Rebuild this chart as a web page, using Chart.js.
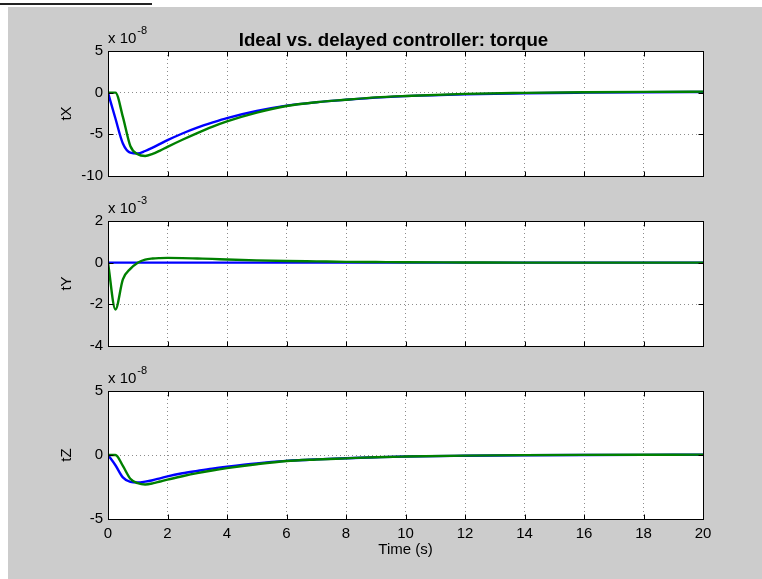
<!DOCTYPE html>
<html>
<head>
<meta charset="utf-8">
<script src="https://cdn.jsdelivr.net/npm/chart.js@4.4.1/dist/chart.umd.min.js"></script>
<style>
body { margin: 0; background: #fff; width: 762px; height: 579px; overflow: hidden; position: relative; }
#topline { position: absolute; left: 0; top: 3px; width: 152px; height: 2px; background: #222; }
#fig { position: absolute; left: 8px; top: 7px; right: 0; bottom: 0; background: #ccc; }
canvas { position: absolute; left: 0; }
</style>
</head>
<body>
<div id="topline"></div>
<div id="fig"></div>
<canvas id="cX" width="762" height="190" style="top:0"></canvas>
<canvas id="cY" width="762" height="170" style="top:190px"></canvas>
<canvas id="cZ" width="762" height="219" style="top:360px"></canvas>
<script>
// time samples (s)
var time = [0, 0.25, 0.5, 0.75, 1, 1.25, 1.5, 1.75, 2, 2.5, 3, 3.5, 4, 5, 6, 7, 8, 9, 10, 12, 14, 16, 18, 20];

// tX, units of 1e-8
var tXIdeal   = [0, -3.1, -6.1, -7.2, -7.3, -7.0, -6.6, -6.15, -5.7, -4.9, -4.2, -3.6, -3.05, -2.2, -1.56, -1.15, -0.85, -0.6, -0.42, -0.2, -0.07, 0, 0.05, 0.08];
var tXDelayed = [0, 0, -2.9, -6.4, -7.4, -7.6, -7.35, -6.95, -6.5, -5.65, -4.85, -4.1, -3.45, -2.4, -1.6, -1.15, -0.85, -0.57, -0.4, -0.15, -0.03, 0.05, 0.1, 0.12];

// tY, units of 1e-3
var tYIdeal   = [0, 0, 0, 0, 0, 0, 0, 0, 0, 0, 0, 0, 0, 0, 0, 0, 0, 0, 0, 0, 0, 0, 0, 0];
var tYDelayed = [0, -2.25, -0.8, -0.3, 0, 0.15, 0.2, 0.22, 0.23, 0.22, 0.2, 0.18, 0.15, 0.11, 0.08, 0.06, 0.04, 0.03, 0.02, 0.01, 0, 0, 0, 0];

// tZ, units of 1e-8
var tZIdeal   = [0, -0.8, -1.75, -2.1, -2.15, -2.08, -1.97, -1.82, -1.67, -1.43, -1.24, -1.06, -0.91, -0.65, -0.46, -0.34, -0.25, -0.18, -0.12, -0.06, -0.02, 0, 0.01, 0.02];
var tZDelayed = [0, 0, -0.85, -1.85, -2.2, -2.3, -2.22, -2.07, -1.92, -1.66, -1.42, -1.21, -1.03, -0.72, -0.47, -0.35, -0.26, -0.17, -0.12, -0.05, -0.01, 0.01, 0.02, 0.03];

var xTicks = [0, 2, 4, 6, 8, 10, 12, 14, 16, 18, 20];
var yTicksX = [-10, -5, 0, 5];
var yTicksY = [-4, -2, 0, 2];
var yTicksZ = [-5, 0, 5];

var FONT = '"Liberation Sans", Arial, sans-serif';
Chart.defaults.font.family = FONT;
Chart.defaults.font.size = 15;
Chart.defaults.color = '#000';

// white plot box, black frame, inward ticks, exponent and title text
var frame = {
  id: 'frame',
  beforeDraw: function (chart) {
    var a = chart.chartArea, ctx = chart.ctx;
    ctx.save();
    ctx.fillStyle = '#fff';
    ctx.fillRect(a.left, a.top, a.right - a.left, a.bottom - a.top);
    ctx.restore();
  },
  afterDraw: function (chart, args, opts) {
    var a = chart.chartArea, ctx = chart.ctx;
    var sx = chart.scales.x, sy = chart.scales.y;
    var L = Math.round(a.left) + 0.5, R = Math.round(a.right) + 0.5;
    var T = Math.round(a.top) + 0.5, B = Math.round(a.bottom) + 0.5;
    ctx.save();
    ctx.strokeStyle = '#000';
    ctx.lineWidth = 1;
    ctx.beginPath();
    sx.ticks.forEach(function (t) {
      var p = Math.round(sx.getPixelForValue(t.value)) + 0.5;
      ctx.moveTo(p, B); ctx.lineTo(p, B - 5);
      ctx.moveTo(p, T); ctx.lineTo(p, T + 5);
    });
    sy.ticks.forEach(function (t) {
      var p = Math.round(sy.getPixelForValue(t.value)) + 0.5;
      ctx.moveTo(L, p); ctx.lineTo(L + 5, p);
      ctx.moveTo(R, p); ctx.lineTo(R - 5, p);
    });
    ctx.stroke();
    ctx.strokeRect(L, T, R - L, B - T);

    ctx.fillStyle = '#000';
    ctx.textBaseline = 'alphabetic';
    ctx.textAlign = 'left';
    ctx.font = '15px ' + FONT;
    ctx.fillText('x 10', a.left, a.top - 8);
    var w = ctx.measureText('x 10').width;
    ctx.font = '11px ' + FONT;
    ctx.fillText(opts.exp, a.left + w + 1, a.top - 17);
    if (opts.title) {
      ctx.font = 'bold 18.7px ' + FONT;
      ctx.textAlign = 'center';
      ctx.fillText(opts.title, (a.left + a.right) / 2 - 12, a.top - 5);
    }
    ctx.restore();
  }
};

function pts(ys) {
  return time.map(function (t, i) { return { x: t, y: ys[i] }; });
}

function panel(id, padTop, xHeight, ideal, delayed, yTicks, label, exp, showX, title) {
  return new Chart(document.getElementById(id), {
    type: 'line',
    data: {
      datasets: [
        { data: pts(delayed), borderColor: '#008000', order: 0 },
        { data: pts(ideal), borderColor: '#0000ff', order: 1 }
      ]
    },
    options: {
      responsive: false,
      animation: false,
      events: [],
      layout: { padding: { top: padTop, right: 59, left: 0, bottom: 0 } },
      elements: {
        point: { radius: 0 },
        line: { borderWidth: 2.4, cubicInterpolationMode: 'monotone', fill: false }
      },
      plugins: {
        legend: { display: false },
        tooltip: { enabled: false },
        frame: { exp: exp, title: title }
      },
      scales: {
        x: {
          type: 'linear', min: 0, max: 20,
          afterBuildTicks: function (s) { s.ticks = xTicks.map(function (v) { return { value: v }; }); },
          afterFit: function (s) { s.height = xHeight; },
          grid: { drawTicks: false, color: '#8c8c8c', lineWidth: 1 },
          border: { display: false, dash: [1, 3] },
          ticks: { display: showX, padding: 6, maxRotation: 0, autoSkip: false },
          title: { display: showX, text: 'Time (s)', padding: { top: 0, bottom: 20 } }
        },
        y: {
          type: 'linear', min: yTicks[0], max: yTicks[yTicks.length - 1],
          afterBuildTicks: function (s) { s.ticks = yTicks.map(function (v) { return { value: v }; }); },
          afterFit: function (s) { s.width = 108; },
          grid: { drawTicks: false, color: '#8c8c8c', lineWidth: 1 },
          border: { display: false, dash: [1, 3] },
          ticks: { padding: 5, autoSkip: false },
          title: { display: true, text: label, padding: { top: 58, bottom: 0 } }
        }
      }
    },
    plugins: [frame]
  });
}

panel('cX', 51, 11, tXIdeal, tXDelayed, yTicksX, 'tX', '-8', false, 'Ideal vs. delayed controller: torque');
panel('cY', 31, 11, tYIdeal, tYDelayed, yTicksY, 'tY', '-3', false, null);
panel('cZ', 31, 60, tZIdeal, tZDelayed, yTicksZ, 'tZ', '-8', true, null);
</script>
</body>
</html>
